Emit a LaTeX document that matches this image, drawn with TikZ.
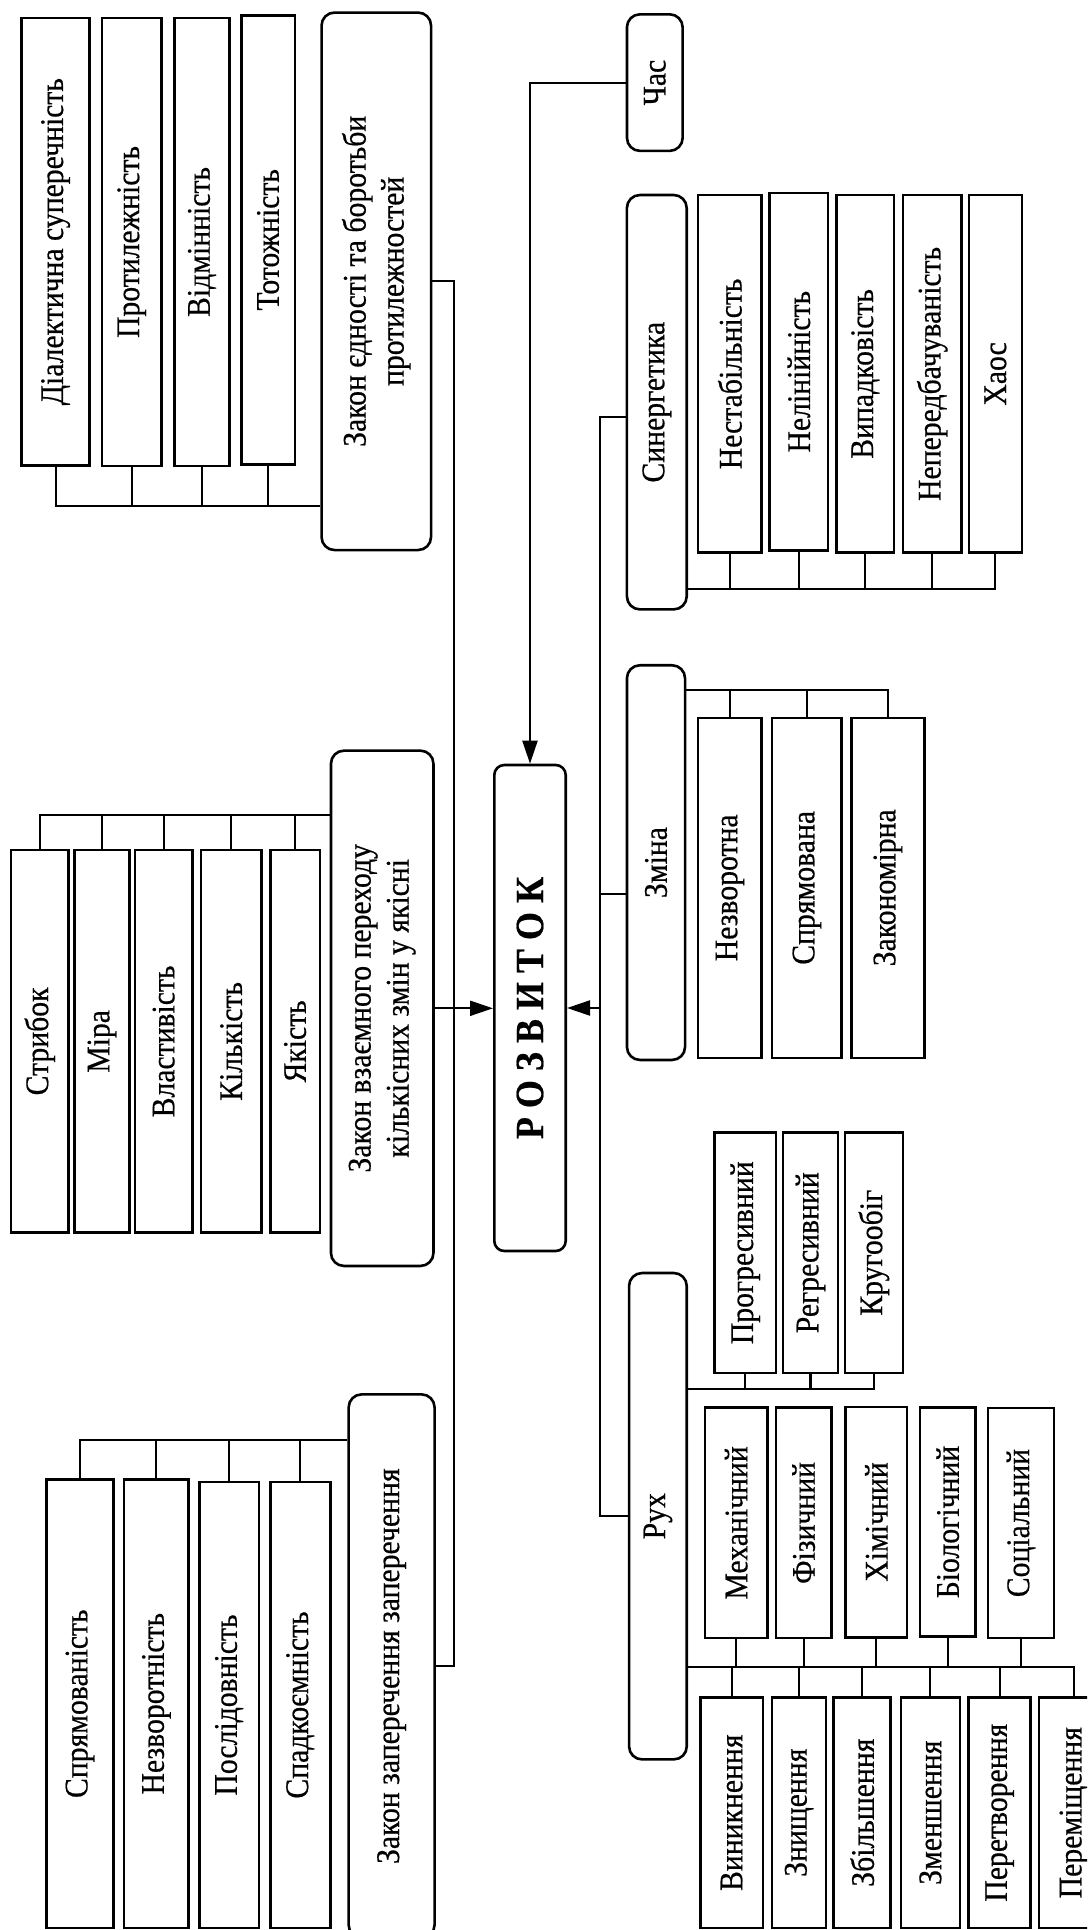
\documentclass[tikz,border=0pt]{standalone}
\usepackage{fontspec}
\setmainfont{Liberation Serif}[FakeBold=0.5, FakeStretch=0.9]
\usetikzlibrary{arrows.meta}
\newcommand\fsz{\fontsize{33pt}{38pt}\selectfont}
\newcommand\Bx[7]{\node[#7, minimum width=#5pt, minimum height=#4pt] (#1) at (#2,#3) {#6};}
\tikzset{
  bx/.style={draw, line width=2.6pt, rotate=90, inner sep=0pt, align=center, font=\fsz},
  rbx/.style={bx, rounded corners=13pt},
  ln/.style={line width=2.1pt},
  arr/.style={ln, -{Triangle[length=23pt,width=15pt]}}
}
\begin{document}
\begin{tikzpicture}[x=1pt,y=-1pt]
\useasboundingbox (0,0) rectangle (1087,1930);
\fill[white] (0,0) rectangle (1087,1930);
\clip (0,0) rectangle (1087,1930);

% group 1
\Bx{d1}{55.6}{241.7}{68.2}{447.7}{Діалектична суперечність}{bx}
\Bx{d2}{131.7}{242}{59.8}{448}{Протилежність}{bx}
\Bx{d3}{202}{242}{54.9}{448}{Відмінність}{bx}
\Bx{d4}{268}{239.8}{53.6}{449}{Тотожність}{bx}
\Bx{z1}{376.3}{281.3}{109.5}{537.5}{Закон єдності та боротьби\\протилежностей}{rbx}

% group 2
\Bx{w1}{39.8}{1041.4}{57.4}{382.6}{Стрибок}{bx}
\Bx{w2}{102}{1041.4}{54.6}{382.6}{Міра}{bx}
\Bx{w3}{163.6}{1041.4}{57.3}{382.6}{Властивість}{bx}
\Bx{w4}{231.2}{1041.4}{60.5}{382.6}{Кількість}{bx}
\Bx{w5}{295.1}{1041.4}{49.4}{382.6}{Якість}{bx}
\Bx{z2}{382.2}{1008.3}{102.5}{515.3}{Закон взаємного переходу\\кількісних змін у якісні}{rbx}

% group 3
\Bx{s1}{80}{1703.7}{67.5}{448.7}{Спрямованість}{bx}
\Bx{s2}{156.4}{1703.7}{64.6}{448.7}{Незворотність}{bx}
\Bx{s3}{229.1}{1705}{59.8}{446}{Послідовність}{bx}
\Bx{s4}{300.3}{1705}{59.8}{446}{Спадкоємність}{bx}
\Bx{zz}{391.6}{1666.2}{85.9}{543.7}{Закон заперечення заперечення}{rbx}

% centre
\Bx{rozv}{530}{1008}{71.4}{486}{\bfseries\fontsize{40pt}{44pt}\selectfont Р О З В И Т О К}{rbx, rounded corners=10pt}

% right side
\Bx{chas}{654.8}{82.6}{55.7}{136.6}{Час}{rbx}
\Bx{syn}{656.8}{402.2}{59.8}{414.4}{Синергетика}{rbx}
\Bx{c1}{729.9}{373.9}{63.6}{357.7}{Нестабільність}{bx}
\Bx{c2}{798.8}{371.7}{58.1}{357.5}{Нелінійність}{bx}
\Bx{c3}{865.3}{373.9}{57.7}{357.7}{Випадковість}{bx}
\Bx{c4}{932.2}{373.9}{58.7}{357.7}{Непередбачуваність}{bx}
\Bx{c5}{995.4}{373.9}{53.2}{357.7}{Хаос}{bx}
\Bx{zm}{656}{862.6}{58.1}{394.7}{Зміна}{rbx}
\Bx{k1}{729.9}{887.8}{63.6}{340}{Незворотна}{bx}
\Bx{k2}{806.9}{887.8}{69.5}{340}{Спрямована}{bx}
\Bx{k3}{887.9}{887.8}{72.6}{340}{Закономірна}{bx}
\Bx{ruh}{657.9}{1516.2}{57.7}{486.4}{Рух}{rbx}
\Bx{p1}{745.2}{1252.7}{61.5}{240.5}{Прогресивний}{bx}
\Bx{p2}{810.5}{1252.7}{55.3}{240.5}{Регресивний}{bx}
\Bx{p3}{873.9}{1252.7}{57.8}{240.5}{Кругообіг}{bx}
\Bx{m1}{736.2}{1522.9}{62.3}{230.4}{Механічний}{bx}
\Bx{m2}{803.6}{1522.9}{55.3}{230.4}{Фізичний}{bx}
\Bx{m3}{876.3}{1522}{61.2}{230.4}{Хімічний}{bx}
\Bx{m4}{947.7}{1522}{55.3}{229}{Біологічний}{bx}
\Bx{m5}{1021}{1523}{65.7}{230}{Соціальний}{bx}
\Bx{v1}{731.7}{1812.7}{62.3}{230.6}{Виникнення}{bx}
\Bx{v2}{799.1}{1812.7}{53.9}{230.6}{Знищення}{bx}
\Bx{v3}{862.2}{1812.7}{57.1}{230.6}{Збільшення}{bx}
\Bx{v4}{930.4}{1812.7}{58.8}{230.6}{Зменшення}{bx}
\Bx{v5}{999.6}{1812.7}{62.3}{230.6}{Перетворення}{bx}
\Bx{v6}{1074}{1812.7}{70}{230.6}{Переміщення}{bx}

% bus levels and spines
\coordinate (dbus) at (0,505.8);
\coordinate (wbus) at (0,814.8);
\coordinate (nbus) at (0,1439.8);
\coordinate (sbus) at (0,589.3);
\coordinate (zbus) at (0,689.7);
\coordinate (pbus) at (0,1388.6);
\coordinate (mbus) at (0,1666.8);
\coordinate (sync) at (0,417.4);
\coordinate (zmc) at (0,893.6);
\coordinate (lsp) at (453.6,0);
\coordinate (rsp) at (600.3,0);

% group 1 connectors
\draw[ln] (z1.north |- dbus) -| (d1.west);
\foreach \n in {d2,d3,d4} \draw[ln] (\n.west) -- (\n.west |- dbus);
% group 2
\draw[ln] (z2.north |- wbus) -| (w1.east);
\foreach \n in {w2,w3,w4,w5} \draw[ln] (\n.east) -- (\n.east |- wbus);
% group 3
\draw[ln] (zz.north |- nbus) -| (s1.east);
\foreach \n in {s2,s3,s4} \draw[ln] (\n.east) -- (\n.east |- nbus);

% left spine
\draw[ln] (z1.south) -| (lsp |- zz.south) -- (zz.south);
\draw[arr] (z2.south) -- (rozv.north |- z2.south);

% time
\draw[arr] (chas.north) -| (rozv.east);

% right spine
\draw[ln] (syn.north |- sync) -| (rsp |- ruh.north) -- (ruh.north);
\draw[ln] (zm.north |- zmc) -- (rsp |- zmc);
\draw[arr] (rsp |- rozv.south) -- (rozv.south);

% synergetics
\draw[ln] (syn.south |- sbus) -| (c5.west);
\foreach \n in {c1,c2,c3,c4} \draw[ln] (\n.west) -- (\n.west |- sbus);
% change
\draw[ln] (zm.south |- zbus) -| (k3.east);
\foreach \n in {k1,k2} \draw[ln] (\n.east) -- (\n.east |- zbus);
% motion
\draw[ln] (ruh.south |- pbus) -| (p3.west);
\foreach \n in {p1,p2} \draw[ln] (\n.west) -- (\n.west |- pbus);
\draw[ln] (ruh.south |- mbus) -| (v6.east);
\foreach \n in {m1,m2,m3,m4,m5} \draw[ln] (\n.west) -- (\n.west |- mbus);
\foreach \n in {v1,v2,v3,v4,v5} \draw[ln] (\n.east) -- (\n.east |- mbus);
\end{tikzpicture}
\end{document}
